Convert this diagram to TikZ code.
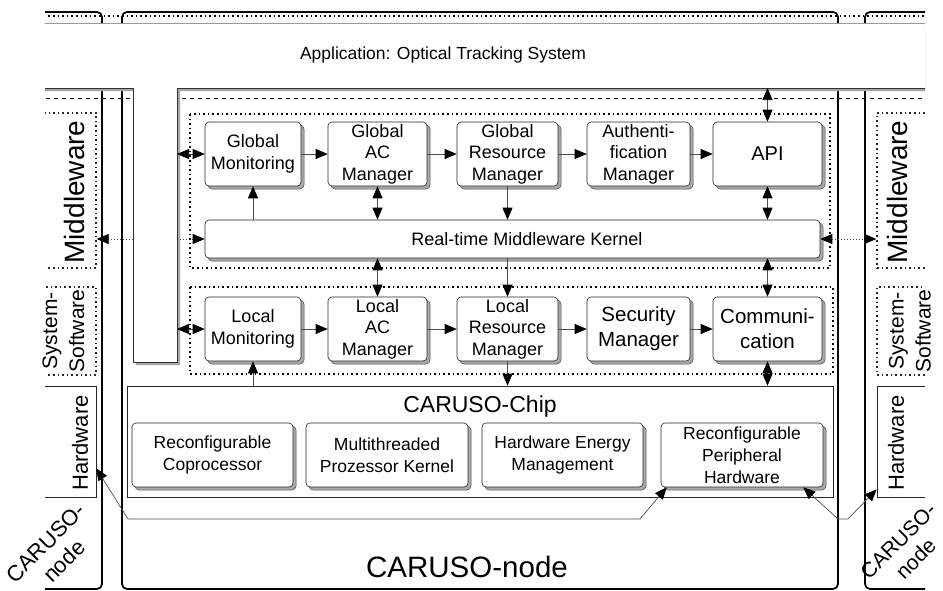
\documentclass[tikz,border=0pt]{standalone}
\usepackage{fontspec}
\setmainfont{Liberation Sans}
\usetikzlibrary{arrows.meta,shadows}

\begin{document}
\begin{tikzpicture}[x=1pt,y=-1pt,
	blk/.style={draw=black!85, line width=0.6pt, fill=white, rounded corners=4pt,
		align=center, inner sep=0pt,
		general shadow={shadow xshift=3pt, shadow yshift=-3pt, fill=black!35, draw=black!70, line width=0.5pt},
		font=\fontsize{18}{21.5}\selectfont},
	gblk/.style={blk, minimum height=64},
	chipblk/.style={blk, minimum width=161, minimum height=64, font=\fontsize{17.5}{22}\selectfont},
	colline/.style={line width=1.7pt, rounded corners=5pt},
	dotbox/.style={line width=1.3pt, dash pattern=on 1.6pt off 3pt},
	arr/.style={-{Triangle[length=12pt,width=10pt,color=black]}, draw=black!70, line width=0.7pt},
	dbl/.style={{Triangle[length=12pt,width=10pt,color=black]}-{Triangle[length=12pt,width=10pt,color=black]}, draw=black!70, line width=0.7pt},
	dotarr/.style={dbl, dash pattern=on 1pt off 2pt},
	side/.style={draw=black!85, line width=0.6pt, minimum width=66, inner sep=0pt},
	appbox/.style={fill=white, draw=black!80, line width=0.6pt,
		general shadow={shadow xshift=3pt, shadow yshift=-3pt, fill=black!35}},
]
\useasboundingbox (0,0) rectangle (943,590);

\begin{scope}
	\clip (45,0) rectangle (925,590);

	% CARUSO-node columns
	\draw[colline] (0,12) rectangle (102,589);
	\draw[colline] (122,12) rectangle (838,589);
	\draw[colline] (865,12) rectangle (990,589);

	\draw[dotbox] (30,16) -- (940,16);
	\draw[line width=0.6pt, dash pattern=on 4pt off 4pt] (30,98) -- (940,98);

	% layer boxes left and right
	\node[side, dotbox, minimum height=155] (lmw) at (63,190.5) {};
	\node[side, dotbox, minimum height=88] (lss) at (63,331) {};
	\node[side, minimum height=111] (lhw) at (63,441.5) {};
	\node[side, dotbox, minimum height=155] (rmw) at (910,190.5) {};
	\node[side, dotbox, minimum height=88] (rss) at (910,331) {};
	\node[side, minimum height=111] (rhw) at (910,441.5) {};

	% kernel box first, the dotted links run behind the application
	\node[blk, minimum width=615, minimum height=38] (ker) at (512.5,239) {};
	\draw[dotarr] (ker.west) -- (lmw.east |- ker.west);
	\draw[dotarr] (ker.east) -- (rmw.west |- ker.east);

	% Application
	\draw[appbox] (30,23) -- (940,23) -- (940,88) -- (177,88) -- (177,362)
		-- (133,362) -- (133,88) -- (30,88) -- cycle;
	\draw[black!40, line width=1pt] (30,23) -- (940,23);
\end{scope}

\node[font=\fontsize{17.5}{20}\selectfont] (apptxt) at (443,55) {Application: Optical Tracking System};
\coordinate (legA) at (177,154);
\coordinate (legB) at (177,329);
\coordinate (appB) at (767.5,88);

% side labels
\node[rotate=90, font=\fontsize{28}{30}\selectfont] (lmwtxt) at (74,192) {Middleware};
\node[rotate=90, font=\fontsize{21}{27}\selectfont, align=center] (lsstxt) at (63.5,331) {System-\\Software};
\node[rotate=90, font=\fontsize{22}{26}\selectfont] (lhwtxt) at (80,443) {Hardware};
\node[rotate=45, font=\fontsize{22}{26}\selectfont, align=center] (lcntxt) at (55,552) {CARUSO-\\node};
\node[rotate=90, font=\fontsize{28}{30}\selectfont] (rmwtxt) at (897,192) {Middleware};
\node[rotate=90, font=\fontsize{21}{27}\selectfont, align=center] (rsstxt) at (910,331) {System-\\Software};
\node[rotate=90, font=\fontsize{22}{26}\selectfont] (rhwtxt) at (896,443) {Hardware};
\node[rotate=45, font=\fontsize{21}{25}\selectfont, align=center] (rcntxt) at (907,550) {CARUSO-\\node};

% middleware and system software groups
\draw[dotbox] (190,114) rectangle (830,268);
\draw[dotbox] (190,287) rectangle (833,374);

\node[gblk, minimum width=96] (gm) at (253,154) {Global\\Monitoring};
\node[gblk, minimum width=99] (gac) at (377.5,154) {Global\\AC\\Manager};
\node[gblk, minimum width=101] (grm) at (507.5,154) {Global\\Resource\\Manager};
\node[gblk, minimum width=103] (aut) at (638.5,154) {Authenti-\\fication\\Manager};
\node[gblk, minimum width=109, font=\fontsize{20}{22}\selectfont] (api) at (767.5,154) {API};

\node (kertxt) at (527,239) [font=\fontsize{18}{21}\selectfont] {Real-time Middleware Kernel};

\node[gblk, minimum width=96] (lm) at (253,329) {Local\\Monitoring};
\node[gblk, minimum width=99] (lac) at (377.5,329) {Local\\AC\\Manager};
\node[gblk, minimum width=101] (lrm) at (507.5,329) {Local\\Resource\\Manager};
\node[gblk, minimum width=103, font=\fontsize{20.5}{25}\selectfont] (sec) at (638.5,329) {Security\\Manager};
\node[gblk, minimum width=109, font=\fontsize{20.5}{25}\selectfont] (com) at (767.5,329) {Communi-\\cation};

% CARUSO-Chip
\node[draw=black!85, line width=0.6pt, minimum width=706, minimum height=111, inner sep=0pt] (chip) at (480,441.5) {};
\node[font=\fontsize{23}{26}\selectfont] (chiptxt) at (480,407) {CARUSO-Chip};
\node[chipblk] (rc) at (212.5,455) {Reconfigurable\\Coprocessor};
\node[chipblk, minimum width=162] (mpk) at (387,455) {Multithreaded\\Prozessor Kernel};
\node[chipblk] (hem) at (562.5,455) {Hardware Energy\\Management};
\node[chipblk, minimum width=162] (rph) at (742,455) {Reconfigurable\\Peripheral\\Hardware};

\node[font=\fontsize{29.5}{32}\selectfont] (nodetxt) at (467,567) {CARUSO-node};

% connectors
\foreach \a/\b in {gm/gac,gac/grm,grm/aut,aut/api,lm/lac,lac/lrm,lrm/sec,sec/com}
	\draw[arr] (\a.east) -- (\b.west);

\draw[dbl] (legA) -- (gm.west);
\draw[dbl] (legB) -- (lm.west);
\draw[dbl] (appB) -- (api.north);

\draw[arr] (gm.south |- ker.north) -- (gm.south);
\draw[dbl] (gac.south) -- (gac.south |- ker.north);
\draw[arr] (grm.south) -- (grm.south |- ker.north);
\draw[dbl] (api.south) -- (api.south |- ker.north);

\draw[dbl] (lac.north |- ker.south) -- (lac.north);
\draw[arr] (lrm.north |- ker.south) -- (lrm.north);
\draw[dbl] (com.north |- ker.south) -- (com.north);

\draw[arr] (lm.south |- chip.north) -- (lm.south);
\draw[arr] (lrm.south) -- (lrm.south |- chip.north);
\draw[dbl] (com.south) -- (com.south |- chip.north);

% hardware links
\coordinate (busL) at (128,519);
\coordinate (busR) at (640,519);
\coordinate (busC) at (838,519);
\coordinate (busD) at (848,519);
\draw[dbl] ([yshift=29pt]lhw.south east) -- (busL) -- (busR) -- ([xshift=6pt]rph.south west);
\draw[dbl] ([xshift=-20pt]rph.south east) -- (busC) -- (busD) -- ([yshift=8pt]rhw.south west);

\end{tikzpicture}
\end{document}
